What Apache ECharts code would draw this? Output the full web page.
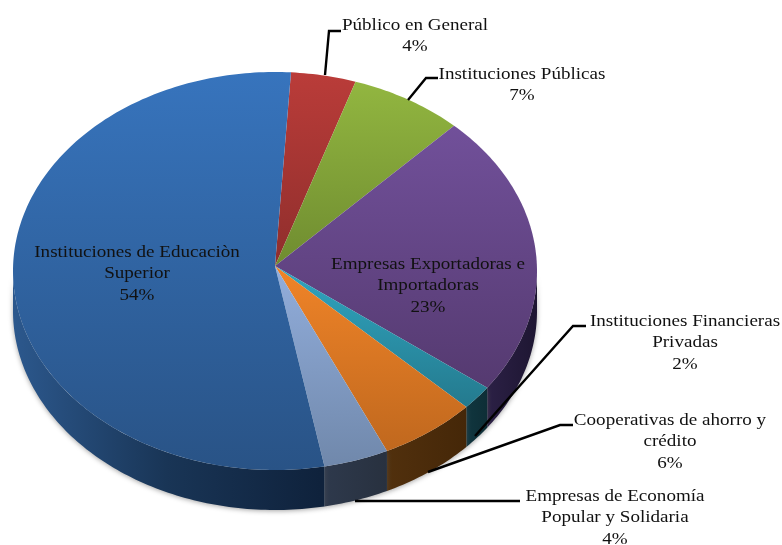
<!DOCTYPE html>
<html><head><meta charset="utf-8">
<style>html,body{margin:0;padding:0;background:#fff}#c{width:782px;height:545px}</style>
<script src="https://cdn.jsdelivr.net/npm/echarts@6/dist/echarts.min.js"></script>
</head><body><div id="c"></div>
<script>
const categories = ['Público en General','Instituciones Públicas','Empresas Exportadoras e\nImportadoras','Instituciones Financieras\nPrivadas','Cooperativas de ahorro y\ncrédito','Empresas de Economía\nPopular y Solidaria','Instituciones de Educaciòn\nSuperior'];
const values = [4,7,23,2,6,4,54];
const topColors = [['#ba3c39','#8f2e2c'],['#92b640','#6f8c30'],['#71509a','#553a70'],['#30a5c0','#247a8e'],['#f08428','#c0681e'],['#92aedc','#7088ab'],['#3774bd','#295386']];
const wallColors = [['#8e2e2c','#6e2220'],['#6c8a30','#50661f'],['#2b2045','#1e1632'],['#10363f','#0e2e36'],['#51300d','#452708'],['#2e394c','#28313f'],['#2c588d','#193556','#0f223c']];
const labelCentres = [[415,36],[522,85],[428,285.5],[685,342.5],[670,441.5],[615,517.5],[137,273.5]];
const leaders = [[[325,75],[329,31],[341,31]],[[408,100],[426,78],[438,78]],null,[[475,436],[573,326],[586,326]],[[428,472],[560,425],[573,425]],[[355,501],[520,501]],null];

const cx = 275, cy = 271, apexY = 266, rx = 262, ry = 199, depth = 40, startDeg = 3.5;
const total = values.reduce((a,b)=>a+b,0);
const pt = (deg, dy=0) => { const r = deg*Math.PI/180; return [cx+rx*Math.sin(r), cy-ry*Math.cos(r)+dy]; };
const span = i => { let s = startDeg; for (let k=0;k<i;k++) s += values[k]/total*360; return [s, s+values[i]/total*360]; };
const arc = (a,b,dy=0) => { const n = Math.max(2,Math.ceil((b-a)/1)), out=[]; for(let i=0;i<=n;i++) out.push(pt(a+(b-a)*i/n,dy)); return out; };
const grad = (x,y,x2,y2,c,g) => new echarts.graphic.LinearGradient(x,y,x2,y2,c.map((color,k)=>({offset:k/(c.length-1),color})),g);
const seriesData = values.map((v,i)=>({name:categories[i],value:[i,v]}));

const renderWall = (p,api) => {
  const i = api.value(0), [s,e] = span(i), a = Math.max(s,90), b = Math.min(e,270);
  if (b <= a) return null;
  const upper = arc(a,b), lower = arc(a,b,depth).reverse();
  const isBlue = i === 6;
  return {type:'polygon',shape:{points:upper.concat(lower)},
    style:{fill:grad(isBlue?13:pt(b)[0],0,isBlue?320:pt(a)[0],0,wallColors[i],true),shadowBlur:5,shadowColor:'rgba(90,90,90,0.55)',shadowOffsetY:1}};
};
const renderTop = (p,api) => {
  const i = api.value(0), [s,e] = span(i);
  return {type:'polygon',shape:{points:[[cx,apexY]].concat(arc(s,e))},
    style:{fill:grad(0,0,0,1,topColors[i],false)}};
};
const renderLabel = (p,api) => {
  const i = api.value(0), ch = [];
  if (leaders[i]) ch.push({type:'polyline',shape:{points:leaders[i]},style:{stroke:'#000',lineWidth:2.4,fill:null}});
  ch.push({type:'text',x:labelCentres[i][0],y:labelCentres[i][1],scaleX:1.09,style:{text:categories[i]+'\n'+api.value(1)+'%',align:'center',verticalAlign:'middle',
    font:'17.5px "Liberation Serif"',lineHeight:21.5,fill:'#111'}});
  return {type:'group',children:ch};
};
const mk = (fn,z) => ({type:'custom',renderItem:fn,data:seriesData,z,silent:true,animation:false,clip:false,coordinateSystem:'none'});
const chart = echarts.init(document.getElementById('c'),null,{renderer:'canvas'});
chart.setOption({animation:false,backgroundColor:'#fff',series:[mk(renderWall,1),mk(renderTop,2),mk(renderLabel,3)]});
</script></body></html>
